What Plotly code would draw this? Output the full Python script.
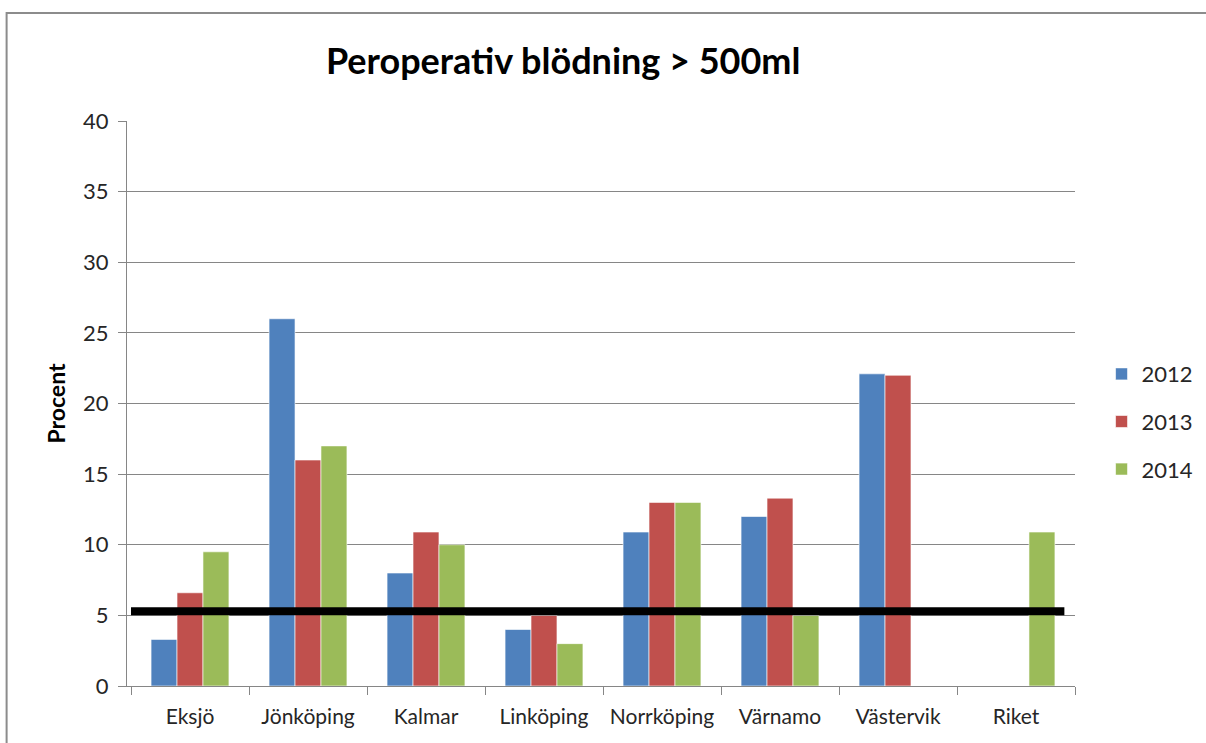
import plotly.graph_objects as go

categories = ["Eksjö", "Jönköping", "Kalmar", "Linköping", "Norrköping",
              "Värnamo", "Västervik", "Riket"]
values_2012 = [3.3, 26.0, 8.0, 4.0, 10.9, 12.0, 22.1, None]
values_2013 = [6.6, 16.0, 10.9, 5.0, 13.0, 13.3, 22.0, None]
values_2014 = [9.5, 17.0, 10.0, 3.0, 13.0, 5.0, None, 10.9]
riket_level = 5.3
y_ticks = [0, 5, 10, 15, 20, 25, 30, 35, 40]

series = [
    ("2012", values_2012, "#4F81BD"),
    ("2013", values_2013, "#C0504D"),
    ("2014", values_2014, "#9BBB59"),
]

font_family = "Lato, 'Open Sans', sans-serif"

fig = go.Figure()
for name, vals, color in series:
    fig.add_trace(go.Bar(
        x=categories, y=vals, name=name, legendgroup=name,
        marker=dict(color=color, line=dict(color="rgba(255,255,255,0.6)", width=1)),
    ))

# national reference level drawn as a thick horizontal line
fig.add_shape(type="line", xref="x", yref="y",
              x0=-0.5, x1=7.41, y0=riket_level, y1=riket_level,
              line=dict(color="black", width=8), layer="above")

# outer chart frame
fig.add_shape(type="rect", xref="paper", yref="paper",
              x0=-0.127, x1=1.2, y0=-0.2, y1=1.191,
              line=dict(color="#8C8C8C", width=2), layer="below")

fig.update_layout(
    width=1206, height=743,
    margin=dict(l=127, r=131, t=121, b=57, autoexpand=False),
    paper_bgcolor="white", plot_bgcolor="white",
    font=dict(family=font_family, color="#262626", size=21),
    title=dict(text="<b>Peroperativ blödning > 500ml</b>",
               x=0.467, xanchor="center", y=0.918, yanchor="middle",
               font=dict(size=36, color="black", family=font_family)),
    barmode="group", bargap=0.34, bargroupgap=0,
    showlegend=True,
    legend=dict(x=1.028, xanchor="left", y=0.468, yanchor="middle",
                font=dict(size=22), tracegroupgap=16, itemwidth=30,
                bgcolor="rgba(0,0,0,0)"),
    xaxis=dict(
        showline=True, linecolor="#868686", linewidth=1,
        ticks="outside", tickson="boundaries", ticklen=8, tickcolor="#868686",
        tickangle=0, ticklabelstandoff=12,
        tickfont=dict(size=21, color="#262626"),
        showgrid=False,
    ),
    yaxis=dict(
        range=[0, 40], tickvals=y_ticks,
        showline=True, linecolor="#868686", linewidth=1,
        ticks="outside", ticklen=8, tickcolor="#868686",
        ticklabelstandoff=5,
        showgrid=True, gridcolor="#868686", gridwidth=1,
        zeroline=False,
        tickfont=dict(size=22, color="#262626"),
        title=dict(text="<b>Procent</b>", font=dict(size=23, color="black"), standoff=11),
    ),
)

fig.write_html("out.html")
